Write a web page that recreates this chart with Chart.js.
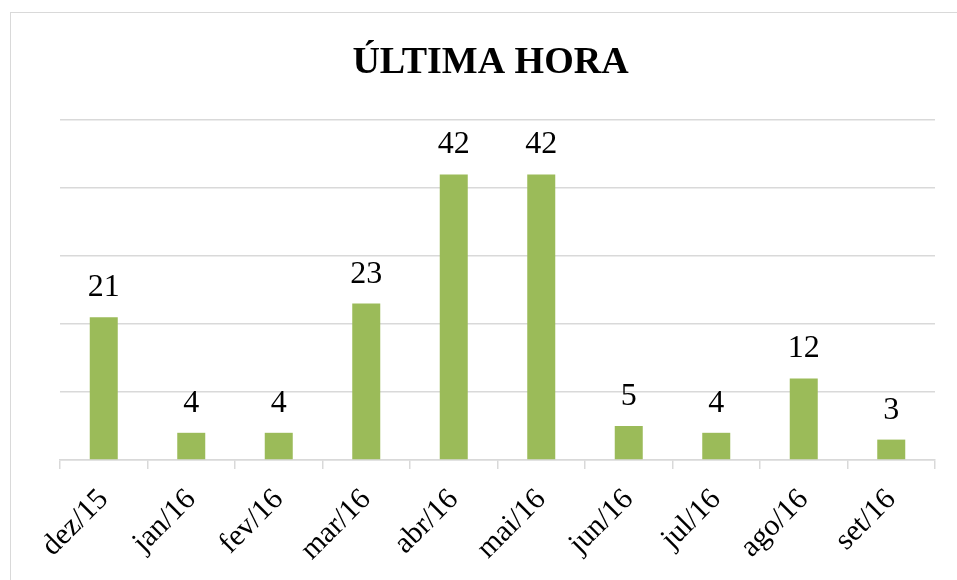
<!DOCTYPE html>
<html>
<head>
<meta charset="utf-8">
<script src="https://cdn.jsdelivr.net/npm/chart.js@4.4.1/dist/chart.umd.min.js"></script>
<style>
  html, body { margin: 0; padding: 0; background: #fff; }
  #wrap { position: relative; width: 957px; height: 580px; overflow: hidden; }
  #frame { position: absolute; left: 10px; top: 12px; width: 1000px; height: 1000px; border: 1px solid #d9d9d9; box-sizing: border-box; }
  canvas { position: absolute; left: 0; top: 0; }
</style>
</head>
<body>
<div id="wrap">
  <div id="frame"></div>
  <canvas id="c" width="957" height="580"></canvas>
</div>
<script>
const categories = ["dez/15", "jan/16", "fev/16", "mar/16", "abr/16", "mai/16", "jun/16", "jul/16", "ago/16", "set/16"];
const values = [21, 4, 4, 23, 42, 42, 5, 4, 12, 3];
const chartTitle = "ÚLTIMA HORA";

const SERIF = '"Liberation Serif", "Times New Roman", serif';

const valueLabels = {
  id: 'valueLabels',
  afterDatasetsDraw(chart) {
    const ctx = chart.ctx;
    const meta = chart.getDatasetMeta(0);
    ctx.save();
    ctx.font = '32px ' + SERIF;
    ctx.fillStyle = '#000';
    ctx.textAlign = 'center';
    ctx.textBaseline = 'alphabetic';
    meta.data.forEach((bar, i) => {
      ctx.fillText(String(values[i]), bar.x, bar.y - 21);
    });
    ctx.restore();
  }
};

new Chart(document.getElementById('c'), {
  type: 'bar',
  data: {
    labels: categories,
    datasets: [{
      data: values,
      backgroundColor: '#9BBB59',
      borderWidth: 0,
      categoryPercentage: 1.0,
      barPercentage: 0.32
    }]
  },
  options: {
    responsive: false,
    animation: false,
    layout: { padding: { left: 46, right: 22, top: 0, bottom: 0 } },
    plugins: {
      legend: { display: false },
      tooltip: { enabled: false },
      title: {
        display: true,
        text: chartTitle,
        color: '#000',
        font: { family: SERIF, size: 38, weight: 'bold', lineHeight: 1.2 },
        padding: { top: 40, bottom: 34.4 }
      }
    },
    scales: {
      x: {
        afterFit(scale) { scale.height = 120; },
        grid: { display: true, drawOnChartArea: false, drawTicks: true, tickLength: 9, color: '#d9d9d9', lineWidth: 1.5, offset: true },
        border: { display: true, color: '#d9d9d9', width: 1.5 },
        ticks: {
          color: '#000',
          font: { family: SERIF, size: 30 },
          minRotation: 45, maxRotation: 45,
          padding: 13,
          autoSkip: false
        }
      },
      y: {
        min: 0, max: 50,
        afterFit(scale) { scale.width = 14; },
        grid: { color: '#d9d9d9', lineWidth: 1.5, drawTicks: false },
        border: { display: false },
        ticks: { display: false, stepSize: 10 }
      }
    }
  },
  plugins: [valueLabels]
});
</script>
</body>
</html>
